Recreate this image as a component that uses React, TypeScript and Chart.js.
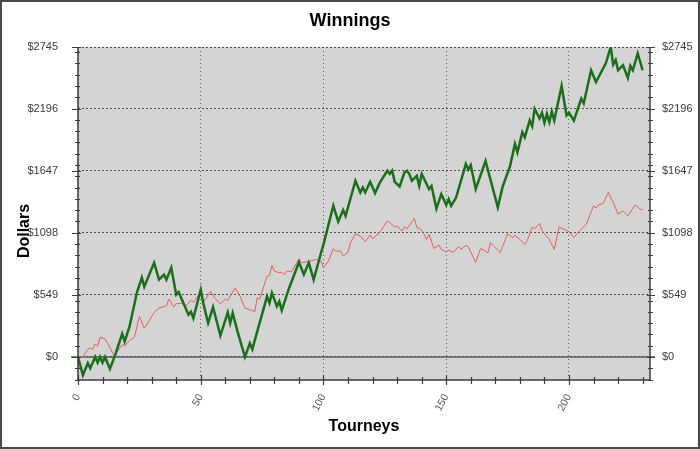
import React, { useEffect, useRef } from 'react';
import { Chart, registerables } from 'chart.js';

Chart.register(...registerables);

// ---- data (tourney index, cumulative dollars) ----
const greenT = [0, 2, 4, 5, 7, 8, 9, 10, 11, 13, 15, 18, 19, 21, 24, 26, 27, 31, 33, 35, 36, 38, 40, 41, 45, 46, 47, 50, 51, 53, 55, 58, 61, 62, 63, 65, 68, 70, 71, 73, 77, 78, 79, 81, 82, 83, 86, 90, 92, 94, 96, 99, 100, 104, 106, 108, 109, 113, 115, 116, 117, 119, 121, 123, 126, 127, 128, 129, 131, 133, 134, 135, 136, 138, 139, 140, 143, 144, 146, 148, 150, 151, 152, 154, 158, 159, 160, 162, 166, 171, 173, 176, 178, 179, 181, 182, 184, 185, 186, 188, 189, 190, 191, 192, 193, 194, 197, 199, 200, 202, 205, 206, 209, 211, 215, 217, 218, 219, 220, 222, 224, 225, 226, 228, 230];
const greenV = [0, -160, -55, -100, 0, -50, 0, -50, 0, -105, 10, 205, 136, 270, 570, 703, 623, 834, 685, 730, 685, 790, 552, 575, 374, 400, 344, 596, 480, 300, 442, 190, 394, 300, 389, 225, 0, 122, 68, 225, 537, 478, 567, 448, 492, 412, 611, 839, 730, 834, 685, 923, 997, 1340, 1199, 1302, 1249, 1560, 1457, 1501, 1457, 1551, 1451, 1546, 1649, 1620, 1649, 1551, 1510, 1635, 1649, 1620, 1560, 1604, 1515, 1620, 1486, 1515, 1314, 1442, 1347, 1397, 1338, 1412, 1709, 1660, 1700, 1486, 1735, 1325, 1510, 1690, 1887, 1812, 1991, 1946, 2094, 2044, 2198, 2114, 2163, 2074, 2153, 2080, 2173, 2094, 2400, 2139, 2163, 2094, 2287, 2245, 2539, 2435, 2600, 2745, 2590, 2630, 2539, 2584, 2471, 2578, 2539, 2688, 2539];

const redT = [0, 2, 4, 5, 6, 7, 8, 9, 11, 15, 16, 18, 19, 21, 23, 25, 27, 28, 31, 33, 36, 37, 39, 40, 42, 44, 46, 47, 50, 51, 54, 56, 58, 60, 61, 62, 64, 66, 68, 70, 72, 73, 74, 77, 78, 79, 80, 82, 83, 84, 85, 87, 90, 91, 92, 94, 97, 99, 100, 102, 104, 105, 107, 108, 110, 111, 113, 115, 117, 119, 120, 123, 126, 127, 129, 130, 132, 133, 134, 137, 138, 140, 141, 142, 143, 145, 147, 148, 150, 151, 153, 155, 156, 158, 159, 162, 164, 165, 167, 168, 169, 172, 175, 176, 177, 178, 180, 182, 183, 185, 186, 188, 189, 190, 192, 194, 196, 197, 198, 200, 202, 204, 207, 210, 211, 212, 214, 216, 218, 220, 222, 224, 227, 229, 230];
const redV = [0, 0, 68, 80, 68, 116, 95, 175, 160, 3, 47, 107, 98, 145, 175, 359, 255, 285, 394, 433, 453, 513, 442, 472, 475, 454, 502, 484, 577, 480, 581, 515, 470, 512, 500, 537, 611, 537, 433, 418, 403, 522, 512, 715, 719, 810, 760, 745, 750, 730, 760, 755, 869, 834, 839, 845, 864, 849, 790, 849, 958, 938, 938, 893, 928, 1012, 1090, 1071, 1020, 1080, 1047, 1106, 1204, 1190, 1150, 1160, 1115, 1154, 1135, 1225, 1150, 1124, 1086, 1041, 1086, 960, 990, 952, 930, 945, 928, 980, 952, 988, 975, 839, 960, 950, 923, 1012, 990, 923, 1090, 1075, 1056, 1075, 1041, 997, 1030, 1150, 1135, 1183, 1120, 1090, 1041, 952, 1154, 1140, 1130, 1110, 1058, 1110, 1174, 1338, 1320, 1345, 1362, 1457, 1370, 1264, 1293, 1249, 1347, 1308, 1303];

const xMajorTicks = [0, 50, 100, 150, 200];
const xTickLabels = ['0', '50', '100', '150', '200'];
const yMajorTicks = [0, 549, 1098, 1647, 2196, 2745];
const yTickLabels = ['$0', '$549', '$1098', '$1647', '$2196', '$2745'];

const X_MIN = 0;
const X_MAX = 233;
const Y_MIN = -204;
const Y_MAX = 2745;
const X_MINOR_STEP = 10;
const Y_MINOR_STEP = 100;

const TITLE = 'Winnings';
const X_TITLE = 'Tourneys';
const Y_TITLE = 'Dollars';

const FONT = "'Liberation Sans', Arial, sans-serif";

const decorPlugin = {
  id: 'decor',
  beforeDraw(chart: any) {
    const { ctx, chartArea: a } = chart;
    ctx.save();
    ctx.fillStyle = '#ffffff';
    ctx.fillRect(0, 0, chart.width, chart.height);
    ctx.fillStyle = '#d4d4d4';
    ctx.fillRect(a.left, a.top, a.right - a.left, a.bottom - a.top);
    ctx.restore();
  },
  beforeDatasetsDraw(chart: any) {
    const { ctx, chartArea: a } = chart;
    const y0 = chart.scales.y.getPixelForValue(0);
    ctx.save();
    ctx.strokeStyle = '#5e5e5e';
    ctx.lineWidth = 1.5;
    ctx.beginPath();
    ctx.moveTo(a.left - 7, y0);
    ctx.lineTo(a.right + 5, y0);
    ctx.stroke();
    ctx.restore();
  },
  afterDraw(chart: any) {
    const { ctx, chartArea: a } = chart;
    const xs = chart.scales.x;
    const ys = chart.scales.y;
    ctx.save();
    // axis lines
    ctx.strokeStyle = '#3c3c3c';
    ctx.lineWidth = 1.5;
    ctx.beginPath();
    ctx.moveTo(a.left, a.top);
    ctx.lineTo(a.left, a.bottom);
    ctx.lineTo(a.right, a.bottom);
    ctx.lineTo(a.right, a.top);
    ctx.stroke();
    // x ticks
    ctx.lineWidth = 1.2;
    for (let v = X_MIN; v <= X_MAX; v += X_MINOR_STEP) {
      const px = Math.round(xs.getPixelForValue(v)) + 0.5;
      const major = xMajorTicks.includes(v);
      ctx.beginPath();
      ctx.moveTo(px, a.bottom - (major ? 5 : 3));
      ctx.lineTo(px, a.bottom + (major ? 5 : 4));
      ctx.stroke();
    }
    // y ticks (both sides)
    for (let v = -200; v <= Y_MAX; v += Y_MINOR_STEP) {
      const py = Math.round(ys.getPixelForValue(v)) + 0.5;
      ctx.beginPath();
      ctx.moveTo(a.left - 3, py);
      ctx.lineTo(a.left + 2, py);
      ctx.moveTo(a.right - 2, py);
      ctx.lineTo(a.right + 3, py);
      ctx.stroke();
    }
    for (const v of yMajorTicks) {
      const py = Math.round(ys.getPixelForValue(v)) + 0.5;
      ctx.beginPath();
      ctx.moveTo(a.left - 6, py);
      ctx.lineTo(a.left + 3, py);
      ctx.moveTo(a.right - 3, py);
      ctx.lineTo(a.right + 5, py);
      ctx.stroke();
    }
    // titles
    ctx.fillStyle = '#000000';
    ctx.textAlign = 'center';
    ctx.textBaseline = 'middle';
    ctx.font = `bold 18px ${FONT}`;
    ctx.fillText(TITLE, 350, 21);
    ctx.font = `bold 16px ${FONT}`;
    ctx.fillText(X_TITLE, 364, 427);
    ctx.save();
    ctx.translate(25, 231);
    ctx.rotate(-Math.PI / 2);
    ctx.fillText(Y_TITLE, 0, 0);
    ctx.restore();
    // outer frame
    ctx.strokeStyle = '#4a4a4a';
    ctx.lineWidth = 2;
    ctx.strokeRect(1, 1, chart.width - 2, chart.height - 2);
    ctx.restore();
  },
};

export default function App() {
  const canvasRef = useRef<HTMLCanvasElement | null>(null);

  useEffect(() => {
    const canvas = canvasRef.current;
    if (!canvas) return;
    Chart.defaults.font.family = FONT;

    const tickFont = { family: FONT, size: 11 };
    const chart = new Chart(canvas, {
      type: 'line',
      data: {
        datasets: [
          {
            label: 'Green',
            data: greenT.map((t, i) => ({ x: t, y: greenV[i] })),
            borderColor: '#1b6e1b',
            borderWidth: 2.5,
            pointRadius: 0,
            tension: 0,
            fill: false,
            yAxisID: 'y',
          },
          {
            label: 'Red',
            data: redT.map((t, i) => ({ x: t, y: redV[i] })),
            borderColor: '#e55e60',
            borderWidth: 1,
            pointRadius: 0,
            tension: 0,
            fill: false,
            yAxisID: 'y',
          },
        ],
      },
      options: {
        responsive: false,
        animation: false,
        devicePixelRatio: 1,
        layout: { padding: { top: 47, left: 0, right: 0, bottom: 0 } },
        plugins: {
          legend: { display: false },
          tooltip: { enabled: false },
          title: { display: false },
        },
        scales: {
          x: {
            type: 'linear',
            min: X_MIN,
            max: X_MAX,
            afterBuildTicks: (s: any) => {
              s.ticks = xMajorTicks.map((v) => ({ value: v }));
            },
            afterFit: (s: any) => {
              s.height = 69;
            },
            ticks: {
              minRotation: 62,
              maxRotation: 62,
              padding: 12,
              color: '#555555',
              font: { family: FONT, size: 10.5 },
              callback: (v: any) => xTickLabels[xMajorTicks.indexOf(Number(v))] ?? '',
            },
            grid: { color: '#5a5a5a', lineWidth: 1, drawTicks: false },
            border: { display: false, dash: [1, 3] },
          },
          y: {
            type: 'linear',
            position: 'left',
            min: Y_MIN,
            max: Y_MAX,
            afterBuildTicks: (s: any) => {
              s.ticks = yMajorTicks.map((v) => ({ value: v }));
            },
            afterFit: (s: any) => {
              s.width = 78;
            },
            ticks: {
              padding: 20,
              color: '#3a3a3a',
              font: tickFont,
              callback: (v: any) => yTickLabels[yMajorTicks.indexOf(Number(v))] ?? '',
            },
            grid: { color: '#4f4f4f', lineWidth: 1, drawTicks: false },
            border: { display: false, dash: [2, 2] },
          },
          y2: {
            type: 'linear',
            position: 'right',
            min: Y_MIN,
            max: Y_MAX,
            afterBuildTicks: (s: any) => {
              s.ticks = yMajorTicks.map((v) => ({ value: v }));
            },
            afterFit: (s: any) => {
              s.width = 50;
            },
            ticks: {
              padding: 12,
              color: '#3a3a3a',
              font: tickFont,
              callback: (v: any) => yTickLabels[yMajorTicks.indexOf(Number(v))] ?? '',
            },
            grid: { display: false, drawTicks: false },
            border: { display: false },
          },
        },
      },
      plugins: [decorPlugin],
    } as any);

    return () => chart.destroy();
  }, []);

  return (
    <div style={{ position: 'fixed', left: 0, top: 0, width: 700, height: 449, background: '#fff' }}>
      <canvas ref={canvasRef} width={700} height={449} style={{ display: 'block', width: 700, height: 449 }} />
    </div>
  );
}
